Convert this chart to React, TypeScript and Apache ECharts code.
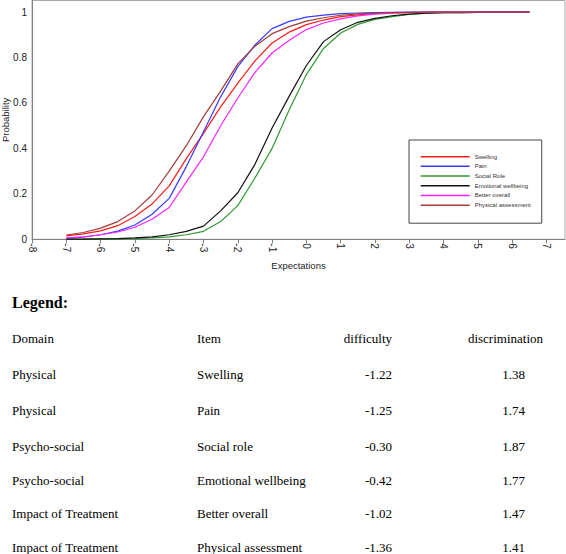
import React, { useEffect, useRef } from "react";
import * as echarts from "echarts";

// x grid (Expectations)
const xs = [-7, -6.5, -6, -5.5, -5, -4.5, -4, -3.5, -3, -2.5, -2, -1.5, -1, -0.5, 0, 0.5, 1, 1.5, 2, 2.5, 3, 3.5, 4, 4.5, 5, 5.5, 6, 6.5];

const seriesNames = ["Swelling", "Pain", "Social Role", "Emotional wellbeing", "Better overall", "Physical assessment"];
const seriesColors = ["#ff1a1a", "#3a3aff", "#2f9a2f", "#111111", "#ff22ff", "#a03c3c"];

const swelling = [0.015, 0.024, 0.037, 0.06, 0.1, 0.155, 0.235, 0.355, 0.466, 0.583, 0.687, 0.785, 0.864, 0.912, 0.945, 0.965, 0.98, 0.988, 0.994, 0.997, 0.998, 0.999, 0.9995, 1, 1, 1, 1, 1];
const pain = [0.004, 0.01, 0.02, 0.036, 0.063, 0.11, 0.18, 0.32, 0.473, 0.627, 0.76, 0.855, 0.927, 0.959, 0.978, 0.987, 0.993, 0.996, 0.998, 0.999, 1, 1, 1, 1, 1, 1, 1, 1];
const socialRole = [0.0003, 0.0006, 0.001, 0.002, 0.003, 0.006, 0.011, 0.02, 0.035, 0.078, 0.148, 0.27, 0.4, 0.57, 0.725, 0.84, 0.908, 0.946, 0.968, 0.98, 0.99, 0.995, 0.997, 0.998, 0.999, 0.9995, 1, 1];
const emotional = [0.0005, 0.001, 0.002, 0.003, 0.006, 0.011, 0.02, 0.035, 0.058, 0.125, 0.205, 0.33, 0.49, 0.63, 0.765, 0.87, 0.922, 0.955, 0.972, 0.984, 0.991, 0.995, 0.997, 0.998, 0.999, 0.9995, 1, 1];
const betterOverall = [0.006, 0.011, 0.02, 0.032, 0.053, 0.088, 0.14, 0.253, 0.363, 0.5, 0.622, 0.735, 0.82, 0.876, 0.923, 0.952, 0.97, 0.983, 0.991, 0.995, 0.997, 0.999, 0.9995, 1, 1, 1, 1, 1];
const physicalAssessment = [0.019, 0.03, 0.049, 0.078, 0.125, 0.195, 0.3, 0.412, 0.54, 0.652, 0.772, 0.85, 0.905, 0.936, 0.96, 0.975, 0.986, 0.992, 0.996, 0.998, 0.999, 1, 1, 1, 1, 1, 1, 1];

const seriesValues = [swelling, pain, socialRole, emotional, betterOverall, physicalAssessment];

// Table below chart
const tableTitle = "Legend:";
const tableHeader = ["Domain", "Item", "difficulty", "discrimination"];
const domains = ["Physical", "Physical", "Psycho-social", "Psycho-social", "Impact of Treatment", "Impact of Treatment"];
const items = ["Swelling", "Pain", "Social role", "Emotional wellbeing", "Better overall", "Physical assessment"];
const difficulty = ["-1.22", "-1.25", "-0.30", "-0.42", "-1.02", "-1.36"];
const discrimination = ["1.38", "1.74", "1.87", "1.77", "1.47", "1.41"];

const rowY = [338, 374, 410, 446, 480, 513, 547];
const serif = '"Liberation Serif", "Times New Roman", serif';

function txt(text: string, x: number, y: number, align: string, size = 13, weight = "normal") {
  return {
    type: "text",
    x,
    y,
    silent: true,
    style: {
      text,
      fill: "#000",
      fontSize: size,
      fontWeight: weight,
      fontFamily: serif,
      align,
      verticalAlign: "middle",
      textAlign: align,
      textVerticalAlign: "middle",
    },
  };
}

export default function App() {
  const ref = useRef<HTMLDivElement>(null);
  useEffect(() => {
    if (!ref.current) return;
    const chart = echarts.init(ref.current, null, { renderer: "svg" });

    const graphics: any[] = [];
    graphics.push(txt(tableTitle, 12, 302, "left", 16, "bold"));
    graphics.push(txt(tableHeader[0], 12, rowY[0], "left"));
    graphics.push(txt(tableHeader[1], 197, rowY[0], "left"));
    graphics.push(txt(tableHeader[2], 392, rowY[0], "right"));
    graphics.push(txt(tableHeader[3], 543, rowY[0], "right"));
    for (let i = 0; i < domains.length; i++) {
      const y = rowY[i + 1];
      graphics.push(txt(domains[i], 12, y, "left"));
      graphics.push(txt(items[i], 197, y, "left"));
      graphics.push(txt(difficulty[i], 392, y, "right"));
      graphics.push(txt(discrimination[i], 525, y, "right"));
    }

    const option: any = {
      animation: false,
      backgroundColor: "#fff",
      textStyle: { fontFamily: '"Liberation Sans", Arial, sans-serif' },
      grid: {
        left: 32,
        top: 0.5,
        width: 533,
        height: 238.8,
        show: true,
        borderColor: "#a8a8a8",
        borderWidth: 1,
        containLabel: false,
        outerBoundsMode: "none",
      },
      xAxis: {
        type: "value",
        min: -8,
        max: 7.54,
        interval: 1,
        name: "Expectations",
        nameLocation: "middle",
        nameGap: 21,
        nameMoveOverlap: false,
        nameTextStyle: { fontSize: 9.5, color: "#222" },
        axisLine: { show: true, onZero: false, lineStyle: { color: "#808080", width: 1 } },
        axisTick: { show: true, length: 4, lineStyle: { color: "#808080" } },
        axisLabel: {
          rotate: -90,
          fontSize: 10,
          color: "#222",
          margin: 4,
          showMaxLabel: false,
          formatter: (v: number) => (Number.isInteger(v) ? String(v) : ""),
        },
        splitLine: { show: false },
      },
      yAxis: {
        type: "value",
        min: 0,
        max: 1.051,
        interval: 0.2,
        name: "Probability",
        nameLocation: "middle",
        nameGap: 21.5,
        nameMoveOverlap: false,
        nameTextStyle: { fontSize: 9.5, color: "#222" },
        axisLine: { show: true, onZero: false, lineStyle: { color: "#808080", width: 1 } },
        axisTick: { show: false },
        axisLabel: {
          fontSize: 10,
          color: "#222",
          margin: 5,
          showMaxLabel: false,
          formatter: (v: number) => (v > 1.001 ? "" : String(Math.round(v * 10) / 10)),
        },
        splitLine: { show: false },
      },
      legend: {
        left: 409,
        top: 140,
        orient: "vertical",
        icon: "rect",
        itemWidth: 49,
        itemHeight: 1.5,
        itemGap: 0,
        padding: [11.8, 11, 13.2, 11.7],
        borderColor: "#444",
        borderWidth: 1,
        backgroundColor: "#fff",
        textStyle: { fontSize: 6, lineHeight: 9.7, color: "#333" },
        data: seriesNames,
      },
      series: seriesNames.map((name, i) => ({
        name,
        type: "line",
        showSymbol: false,
        symbol: "none",
        color: seriesColors[i],
        lineStyle: { width: 1.2, color: seriesColors[i] },
        data: xs.map((x, j) => [x, seriesValues[i][j]]),
      })),
      graphic: graphics,
    };
    chart.setOption(option);
    return () => chart.dispose();
  }, []);

  return (
    <div
      ref={ref}
      style={{ position: "fixed", left: 0, top: 0, width: 566, height: 554, background: "#fff" }}
    />
  );
}
